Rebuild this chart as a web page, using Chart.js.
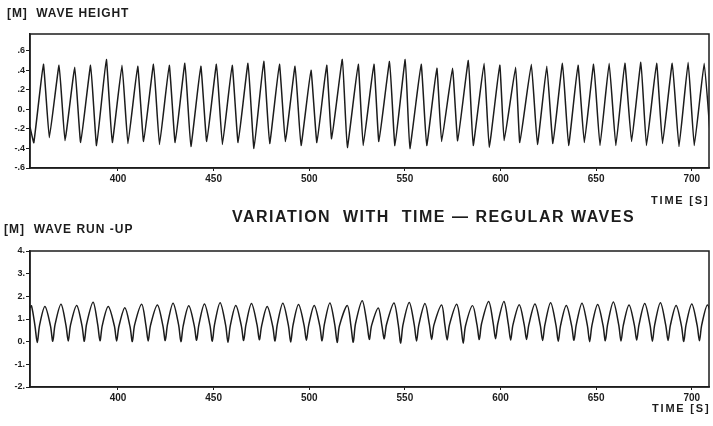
<!DOCTYPE html>
<html>
<head>
<meta charset="utf-8">
<script src="https://cdn.jsdelivr.net/npm/chart.js@4.4.1/dist/chart.umd.min.js"></script>
<style>
  body { margin: 0; background: #fff; }
  #wrap { position: relative; width: 713px; height: 426px; overflow: hidden; }
  canvas { position: absolute; left: 0; top: 0; }
  .lbl { position: absolute; font-family: "Liberation Sans", Arial, sans-serif; font-weight: bold;
         color: #1c1c1c; white-space: pre; line-height: 1; }
</style>
</head>
<body>
<div id="wrap">
  <canvas id="heightChart" width="713" height="426"></canvas>
  <canvas id="runupChart" width="713" height="426"></canvas>
  <div class="lbl" style="left:7px; top:7px; font-size:12px; letter-spacing:0.9px;">[M]  WAVE HEIGHT</div>
  <div class="lbl" style="left:651px; top:195px; font-size:11px; letter-spacing:1.8px;">TIME [S]</div>
  <div class="lbl" style="left:232px; top:209px; font-size:16px; letter-spacing:1.5px;">VARIATION  WITH  TIME — REGULAR WAVES</div>
  <div class="lbl" style="left:4px; top:223px; font-size:12px; letter-spacing:1px;">[M]  WAVE RUN -UP</div>
  <div class="lbl" style="left:652px; top:403px; font-size:11px; letter-spacing:1.8px;">TIME [S]</div>
</div>
<script>
// time axis (s)
const timeMin = 354;
const timeMax = 709;
const timeTicks = [400, 450, 500, 550, 600, 650, 700];

// wave height [m] - peaks and troughs
const heightTime = [
    354.0, 356.0,
    361.0, 364.1, 369.2, 372.3, 377.4, 380.5, 385.7, 388.8,
    393.9, 397.0, 402.1, 405.2, 410.3, 413.4, 418.6, 421.7,
    426.8, 429.9, 435.0, 438.1, 443.3, 446.4, 451.5, 454.6,
    459.7, 462.8, 468.0, 471.1, 476.2, 479.3, 484.4, 487.5,
    492.6, 495.7, 500.9, 504.0, 509.1, 511.7, 517.3, 519.9,
    525.6, 528.2, 533.8, 536.4, 542.0, 544.8, 550.2, 552.6,
    558.5, 561.4, 566.7, 569.2, 574.9, 577.6, 583.2, 585.7,
    591.4, 594.1, 599.6, 601.9, 607.9, 610.1, 616.1, 619.3,
    624.2, 627.4, 632.4, 635.6, 640.5, 643.8, 648.7, 652.0,
    656.8, 660.3, 665.0, 668.5, 673.4, 676.3, 681.6, 684.7,
    689.8, 693.3, 698.1, 701.3, 706.5, 710.0
];
const heightValue = [
    -0.18, -0.34,
    0.46, -0.29, 0.45, -0.32, 0.43, -0.34, 0.45, -0.37,
    0.51, -0.34, 0.45, -0.35, 0.44, -0.33, 0.46, -0.36,
    0.45, -0.34, 0.47, -0.38, 0.44, -0.33, 0.46, -0.36,
    0.45, -0.34, 0.47, -0.40, 0.49, -0.35, 0.46, -0.33,
    0.44, -0.37, 0.40, -0.34, 0.45, -0.30, 0.51, -0.39,
    0.46, -0.37, 0.46, -0.33, 0.49, -0.37, 0.51, -0.40,
    0.46, -0.37, 0.42, -0.33, 0.42, -0.32, 0.50, -0.37,
    0.47, -0.39, 0.45, -0.32, 0.43, -0.34, 0.46, -0.36,
    0.44, -0.35, 0.47, -0.37, 0.45, -0.34, 0.46, -0.37,
    0.47, -0.37, 0.47, -0.33, 0.48, -0.37, 0.47, -0.35,
    0.47, -0.38, 0.48, -0.37, 0.47, -0.36
];
const heightTicks = [-0.6, -0.4, -0.2, 0, 0.2, 0.4, 0.6];
const heightTickLabels = ['-.6', '-.4', '-.2', '0.', '.2', '.4', '.6'];

// wave run-up [m] - one row per wave: crest, then the flank / trough / flank of the V
const runupTime = [
    354.0, 354.8, 356.6, 357.8, 359.0,
    361.8, 364.7, 365.9, 367.1,
    370.2, 372.8, 374.0, 375.2,
    378.4, 381.2, 382.4, 383.6,
    387.0, 389.4, 390.6, 391.8,
    394.9, 398.1, 399.3, 400.5,
    403.6, 406.3, 407.5, 408.7,
    412.4, 414.6, 415.8, 417.0,
    420.6, 423.5, 424.7, 425.9,
    428.8, 431.7, 432.9, 434.1,
    437.0, 439.9, 441.1, 442.3,
    445.2, 448.1, 449.3, 450.5,
    453.4, 456.3, 457.5, 458.7,
    461.6, 464.5, 465.7, 466.9,
    469.8, 472.7, 473.9, 475.1,
    478.0, 480.9, 482.1, 483.3,
    486.2, 489.1, 490.3, 491.5,
    494.4, 497.3, 498.5, 499.7,
    502.6, 505.5, 506.7, 507.9,
    510.8, 513.4, 514.6, 515.8,
    519.9, 521.8, 523.0, 524.2,
    527.7, 530.2, 531.4, 532.6,
    536.1, 538.0, 539.2, 540.4,
    544.3, 546.6, 547.8, 549.0,
    552.3, 554.9, 556.1, 557.3,
    560.5, 562.8, 564.0, 565.2,
    569.2, 570.9, 572.1, 573.3,
    577.1, 579.3, 580.5, 581.7,
    585.4, 587.7, 588.9, 590.1,
    593.8, 596.2, 597.4, 598.6,
    601.8, 604.1, 605.3, 606.5,
    609.8, 612.4, 613.6, 614.8,
    618.0, 620.8, 622.0, 623.2,
    626.2, 629.0, 630.2, 631.4,
    634.4, 637.2, 638.4, 639.6,
    642.6, 645.4, 646.6, 647.8,
    650.8, 653.6, 654.8, 656.0,
    659.0, 661.8, 663.0, 664.2,
    667.2, 670.0, 671.2, 672.4,
    675.4, 678.2, 679.4, 680.6,
    683.6, 686.4, 687.6, 688.8,
    691.8, 694.6, 695.8, 697.0,
    700.0, 702.8, 704.0, 705.2,
    708.2, 711.0, 712.2
];
const runupValue = [
    1.50, 1.58, 0.70, -0.04, 0.72,
    1.55, 0.70, 0.02, 0.75,
    1.65, 0.72, 0.03, 0.74,
    1.60, 0.70, 0.02, 0.78,
    1.74, 0.75, 0.04, 0.72,
    1.55, 0.70, 0.03, 0.68,
    1.50, 0.66, 0.01, 0.74,
    1.65, 0.72, 0.03, 0.72,
    1.62, 0.70, 0.05, 0.76,
    1.70, 0.74, 0.00, 0.70,
    1.58, 0.70, 0.06, 0.74,
    1.66, 0.72, 0.02, 0.76,
    1.72, 0.72, -0.03, 0.70,
    1.60, 0.70, 0.05, 0.74,
    1.68, 0.74, 0.08, 0.70,
    1.55, 0.68, 0.03, 0.76,
    1.70, 0.72, -0.02, 0.72,
    1.64, 0.72, 0.06, 0.72,
    1.60, 0.70, 0.04, 0.76,
    1.71, 0.72, -0.04, 0.70,
    1.60, 0.70, -0.02, 0.80,
    1.81, 0.78, 0.10, 0.72,
    1.49, 0.70, 0.13, 0.76,
    1.71, 0.72, -0.07, 0.74,
    1.73, 0.74, 0.03, 0.74,
    1.68, 0.76, 0.10, 0.74,
    1.62, 0.74, 0.07, 0.74,
    1.65, 0.70, -0.07, 0.70,
    1.59, 0.74, 0.10, 0.80,
    1.77, 0.80, 0.13, 0.80,
    1.77, 0.76, 0.07, 0.74,
    1.63, 0.74, 0.10, 0.74,
    1.66, 0.72, 0.05, 0.74,
    1.72, 0.72, 0.02, 0.72,
    1.60, 0.70, 0.06, 0.74,
    1.70, 0.72, 0.00, 0.72,
    1.64, 0.72, 0.04, 0.76,
    1.75, 0.74, 0.03, 0.72,
    1.62, 0.72, 0.07, 0.74,
    1.68, 0.72, 0.02, 0.74,
    1.72, 0.72, 0.05, 0.72,
    1.60, 0.70, 0.01, 0.74,
    1.66, 0.72, 0.04, 0.74,
    1.62, 0.72, 0.05
];
const runupTicks = [-2, -1, 0, 1, 2, 3, 4];
const runupTickLabels = ['-2.', '-1.', '0.', '1.', '2.', '3.', '4.'];

const ink = '#1c1c1c';
const fontFamily = '"Liberation Sans", Arial, sans-serif';

// plotter frame round the plot area
const framePlugin = {
    id: 'frame',
    afterDraw(chart) {
        const a = chart.chartArea;
        const c = chart.ctx;
        c.save();
        c.strokeStyle = ink;
        c.lineWidth = 1.5;
        c.strokeRect(a.left, a.top, a.right - a.left, a.bottom - a.top);
        c.restore();
    }
};

function makeChart(id, times, values, yMin, yMax, yTicks, yLabels, padTop, padBottom, tension) {
    const points = times.map((t, i) => ({ x: t, y: values[i] }));
    return new Chart(document.getElementById(id), {
        type: 'line',
        data: {
            datasets: [{
                data: points,
                borderColor: ink,
                borderWidth: 1.5,
                pointRadius: 0,
                tension: tension,
                fill: false
            }]
        },
        options: {
            responsive: false,
            animation: false,
            layout: { padding: { top: padTop, bottom: padBottom, left: 0, right: 4 } },
            plugins: { legend: { display: false }, tooltip: { enabled: false } },
            scales: {
                x: {
                    type: 'linear',
                    min: timeMin,
                    max: timeMax,
                    afterBuildTicks: s => { s.ticks = timeTicks.map(v => ({ value: v })); },
                    afterFit: s => { s.height = 22; },
                    ticks: {
                        font: { family: fontFamily, size: 10, weight: 'bold' },
                        color: ink, padding: 2, maxRotation: 0, autoSkip: false
                    },
                    grid: { drawOnChartArea: false, tickLength: 3, color: ink },
                    border: { color: ink, width: 1.5 }
                },
                y: {
                    min: yMin,
                    max: yMax,
                    afterBuildTicks: s => { s.ticks = yTicks.map(v => ({ value: v })); },
                    afterFit: s => { s.width = 30; },
                    ticks: {
                        font: { family: fontFamily, size: 9, weight: 'bold' },
                        color: ink,
                        padding: 1,
                        callback: v => yLabels[yTicks.indexOf(v)]
                    },
                    grid: { drawOnChartArea: false, tickLength: 4, color: ink },
                    border: { color: ink, width: 1.5 }
                }
            }
        },
        plugins: [framePlugin]
    });
}

makeChart('heightChart', heightTime, heightValue, -0.6, 0.77,
    heightTicks, heightTickLabels, 34, 426 - 168 - 22, 0.1);
makeChart('runupChart', runupTime, runupValue, -2, 4,
    runupTicks, runupTickLabels, 251, 426 - 387 - 22, 0.3);
</script>
</body>
</html>
